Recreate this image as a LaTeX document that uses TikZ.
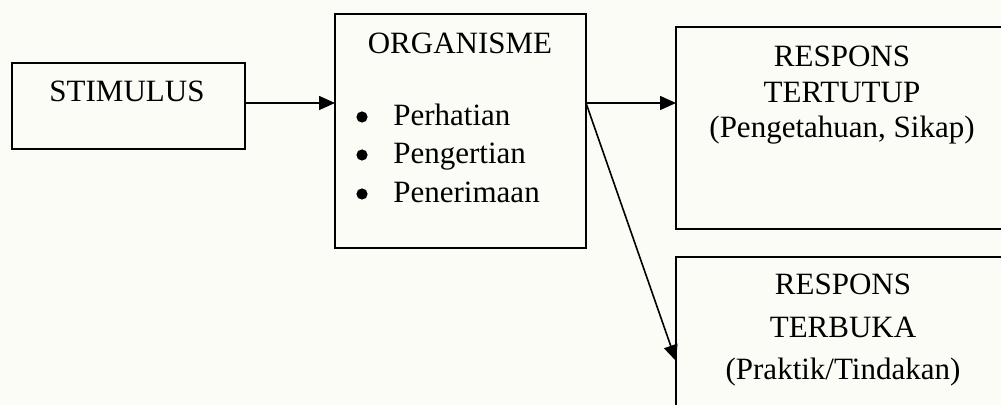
\documentclass[tikz,border=0pt]{standalone}
\usepackage{fontspec}
\setmainfont{Liberation Serif}
\usetikzlibrary{arrows.meta}
\definecolor{bg}{HTML}{FCFCF7}
\tikzset{
  box/.style={draw=black, line width=0.9pt, rectangle, inner sep=0pt, outer sep=0pt},
  txt/.style={anchor=base, inner sep=0pt, font=\fontsize{15.5pt}{18pt}\selectfont},
  bul/.style={circle, fill=black, inner sep=0pt, minimum size=5.6pt},
  arr/.style={line width=0.8pt, -{Triangle[length=8pt,width=7pt]}}
}
\begin{document}
\begin{tikzpicture}[x=0.5pt,y=-0.5pt]
\useasboundingbox (0,0) rectangle (1001,405);
\fill[bg] (0,0) rectangle (1001,405);
\clip (0,0) rectangle (1001,405);
% boxes
\node[box, minimum width=116.5pt, minimum height=43pt] (s) at (128.5,106) {};
\node[box, minimum width=125.5pt, minimum height=117pt] (o) at (460.5,131) {};
\node[box, minimum width=177pt, minimum height=101pt] (t) at (853,128) {};
\node[box, minimum width=177pt, minimum height=91.5pt] (b) at (853,348.5) {};
% texts
\node[txt] (st) at (127,102) {STIMULUS};
\node[txt] (ot) at (460,54) {ORGANISME};
\node[bul] (ob1) at (362,117) {};
\node[bul] (ob2) at (362,155) {};
\node[bul] (ob3) at (362,194) {};
\node[txt, anchor=base west] (oi1) at (393,126) {Perhatian};
\node[txt, anchor=base west] (oi2) at (393,164) {Pengertian};
\node[txt, anchor=base west] (oi3) at (393,203) {Penerimaan};
\node[txt] (t1) at (842,67) {RESPONS};
\node[txt] (t2) at (842,103) {TERTUTUP};
\node[txt] (t3) at (842,138) {(Pengetahuan, Sikap)};
\node[txt] (b1) at (843,295) {RESPONS};
\node[txt] (b2) at (843,338) {TERBUKA};
\node[txt] (b3) at (843,380) {(Praktik/Tindakan)};
% connectors
\coordinate (oe) at (o.east |- 0,103);
\draw[arr] (s.east |- 0,103) -- (o.west |- 0,103);
\draw[arr] (oe) -- (t.west |- 0,103);
\draw[arr] (oe) -- (b.west |- 0,361);
\end{tikzpicture}
\end{document}
